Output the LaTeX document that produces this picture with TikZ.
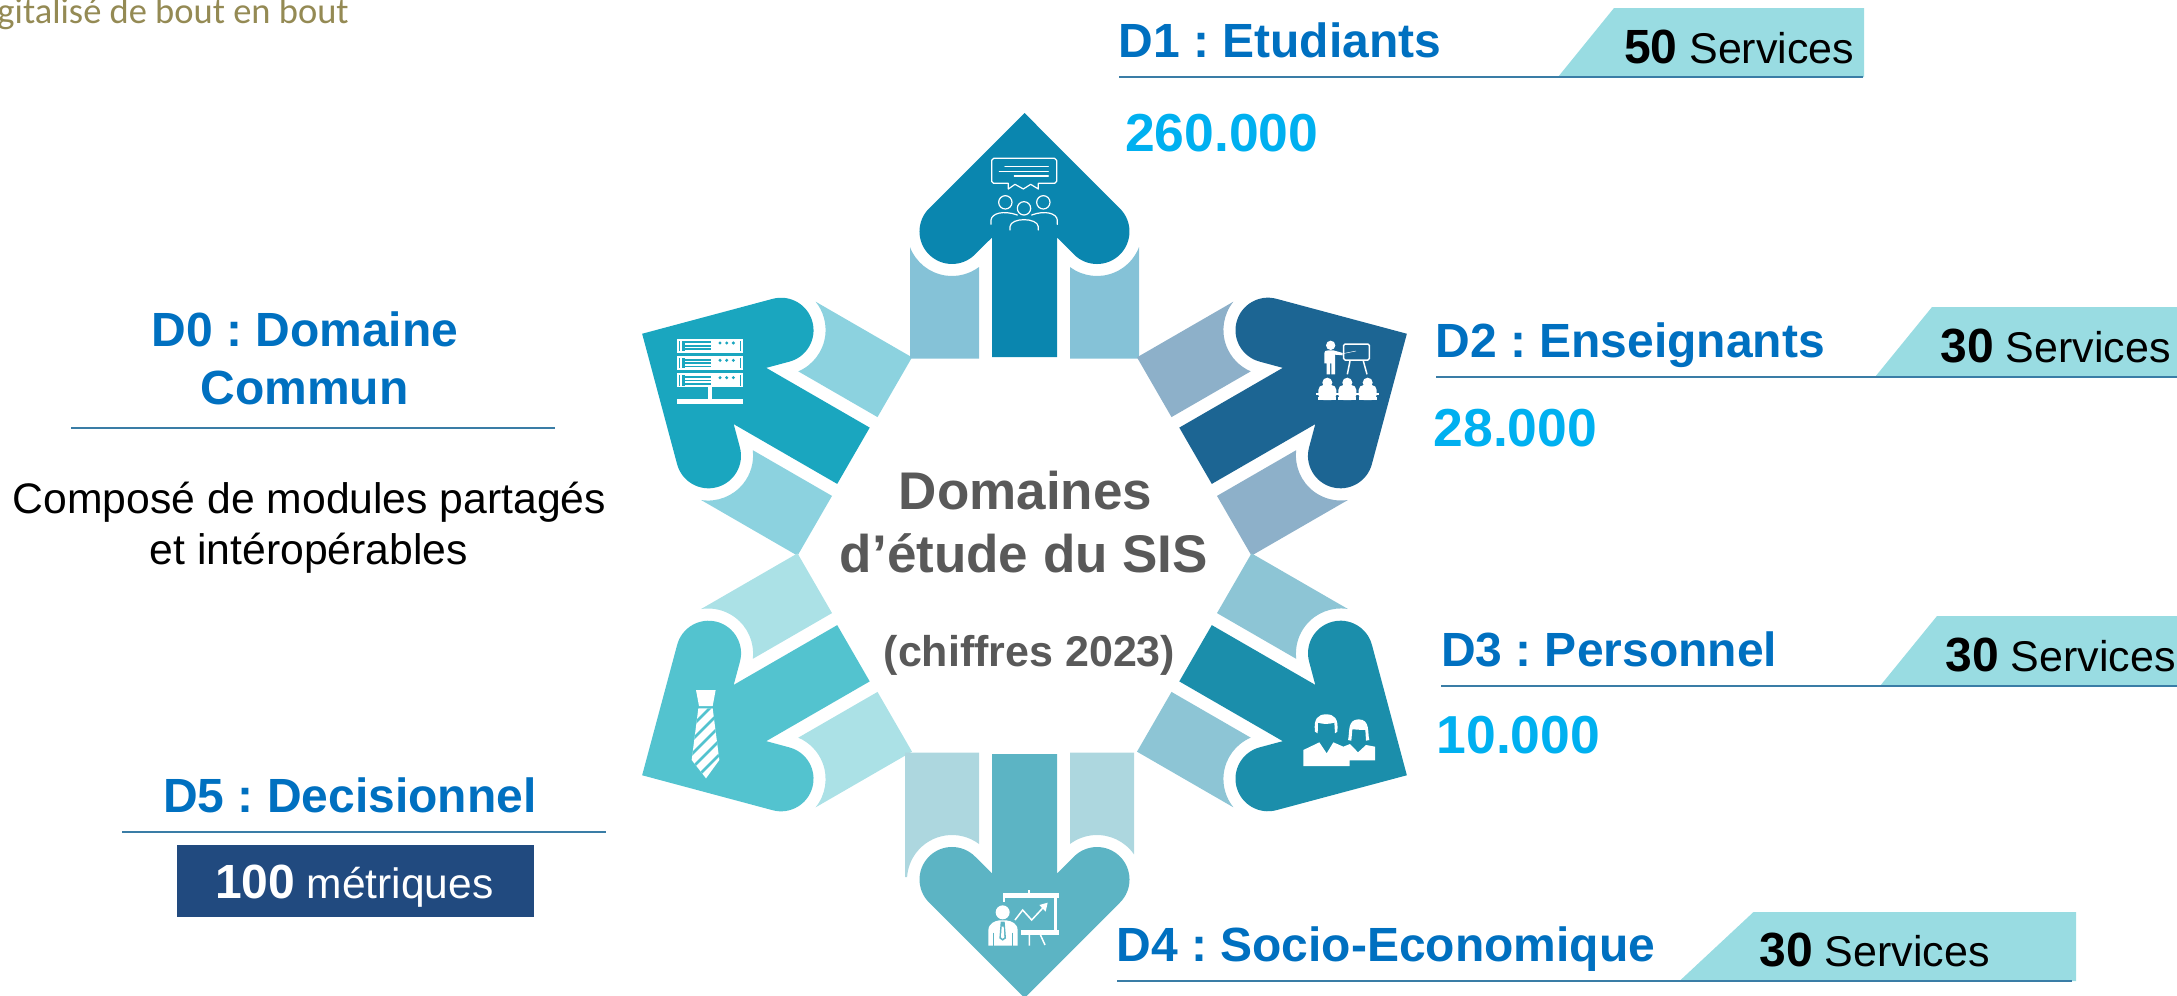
\documentclass[tikz,border=0pt]{standalone}
\usepackage{fontspec}
\setmainfont{Liberation Sans}
\newfontfamily\carlitofont{Carlito}
\newcommand\fsz[1]{\fontsize{#1}{#1}\selectfont}
\definecolor{titleblue}{HTML}{0070C0}
\definecolor{numblue}{HTML}{00B0F0}
\definecolor{rulecol}{HTML}{3A7DA6}
\definecolor{tagcol}{HTML}{99DCE2}
\definecolor{centercol}{HTML}{595959}
\definecolor{navy}{HTML}{214A7F}
\definecolor{olive}{HTML}{948A54}
\definecolor{aA}{HTML}{0A86AF}\definecolor{pA}{HTML}{85C2D7}
\definecolor{aB}{HTML}{1C6593}\definecolor{pB}{HTML}{8DB0C9}
\definecolor{aC}{HTML}{1B8EAB}\definecolor{pC}{HTML}{8DC5D5}
\definecolor{aD}{HTML}{5CB4C4}\definecolor{pD}{HTML}{ADD7DF}
\definecolor{aE}{HTML}{53C3CF}\definecolor{pE}{HTML}{ABE1E6}
\definecolor{aF}{HTML}{1AA6BF}\definecolor{pF}{HTML}{8CD2DF}
\tikzset{
  every node/.append style={execute at begin node=\frenchspacing},
  txt/.style={anchor=base west,inner sep=0pt,outer sep=0pt},
  ctxt/.style={anchor=base,inner sep=0pt,outer sep=0pt},
  title/.style={txt,text=titleblue,font=\fsz{48}\bfseries},
  ctitle/.style={ctxt,text=titleblue,font=\fsz{48}\bfseries},
  num/.style={txt,text=numblue,font=\fsz{53.5}\bfseries},
  tag/.style={txt,text=black,font=\fsz{43}},
  hrule/.style={draw=rulecol,line width=1.8pt},
  icon/.style={draw=white,line width=1.2pt,line cap=round,line join=round,fill=none},
}
% #1 angle #2 y shift #3 arrow colour #4 piece colour #5 left outer x #6 right outer x
\newcommand\spoke[6]{%
  \begin{scope}[shift={(1024.5,554.5+#2)},y=1pt,rotate=#1]
    \fill[#3] (0,441.5) -- (-95.5,346) arc[start angle=135,end angle=315,radius=32.5]
      -- (-32.5,317) -- (-32.5,197.5) -- (32.5,197.5) -- (32.5,317) -- (49.5,300)
      arc[start angle=225,end angle=405,radius=32.5] -- cycle;
    \pgfmathsetmacro\dl{min(#5-72.5,44.9)}
    \pgfmathsetmacro\dr{min(#6-72.5,44.9)}
    \pgfmathsetmacro\al{180+acos(\dl/45)}
    \pgfmathsetmacro\ar{360-acos(\dr/45)}
    \pgfmathsetmacro\yl{323.5-sqrt(45*45-\dl*\dl)}
    \pgfmathsetmacro\yr{323.5-sqrt(45*45-\dr*\dr)}
    \fill[#4] (-#5,196) -- (-#5,\yl) -- (-72.5-\dl,\yl)
      arc[start angle=\al,end angle=306.87,radius=45] -- (-45.5,196) -- cycle;
    \fill[#4] (45.5,196) -- (45.5,287.5)
      arc[start angle=233.13,end angle=\ar,radius=45] -- (#6,\yr) -- (#6,196) -- cycle;
  \end{scope}}
\begin{document}
\begin{tikzpicture}[x=1pt,y=-1pt]
\useasboundingbox (0,0) rectangle (2177,996);
% spokes
\spoke{60}{0}{aF}{pF}{114.5}{114.5}
\spoke{0}{0}{aA}{pA}{114.5}{114.5}
\spoke{-60}{0}{aB}{pB}{114.5}{114.5}
\spoke{-120}{0}{aC}{pC}{114.5}{114.5}
\spoke{120}{0}{aE}{pE}{114.5}{114.5}
\spoke{180}{2}{aD}{pD}{109.5}{119.5}
% header top-left
\node[anchor=base east,inner sep=0pt,text=olive,font=\carlitofont\fsz{36.5}] (hdr) at (349,23) {gitalisé de bout en bout};
% center
\node[ctxt,text=centercol,font=\fsz{53}\bfseries] (c1) at (1025.5,509) {Domaines};
\node[ctxt,text=centercol,font=\fsz{53}\bfseries] (c2) at (1024,572) {d’étude du SIS};
\node[ctxt,text=centercol,font=\fsz{43}\bfseries] (c3) at (1029.5,666) {(chiffres 2023)};
% D1
\fill[tagcol] (1558,77) -- (1614,8) -- (1864,8) -- (1864,77) -- cycle;
\draw[hrule] (1119,77) -- (1863,77);
\node[title] (d1) at (1118.5,57) {D1 : Etudiants};
\node[num] (n1) at (1125,151) {260.000};
\node[tag] (s1) at (1624,63) {{\fsz{48}\bfseries 50} Services};
% D2
\fill[tagcol] (1875,377) -- (1932,307) -- (2177,307) -- (2177,377) -- cycle;
\draw[hrule] (1436,377) -- (2177,377);
\node[title] (d2) at (1435.5,357) {D2 : Enseignants};
\node[num] (n2) at (1433.5,446) {28.000};
\node[tag] (s2) at (1940.5,362) {{\fsz{48}\bfseries 30} Services};
% D3
\fill[tagcol] (1880,686) -- (1937,616) -- (2177,616) -- (2177,686) -- cycle;
\draw[hrule] (1441,686) -- (2177,686);
\node[title] (d3) at (1441,666) {D3 : Personnel};
\node[num] (n3) at (1436.5,753) {10.000};
\node[tag] (s3) at (1945.5,671) {{\fsz{48}\bfseries 30} Services};
% D4
\fill[tagcol] (1679.5,981) -- (1753.5,912) -- (2076,912) -- (2076,981) -- cycle;
\draw[hrule] (1117,981) -- (2072,981);
\node[title] (d4) at (1116.5,961) {D4 : Socio-Economique};
\node[tag] (s4) at (1759.5,966) {{\fsz{48}\bfseries 30} Services};
% D0
\node[ctitle] (d0a) at (305,346) {D0 : Domaine};
\node[ctitle] (d0b) at (304.5,404) {Commun};
\draw[hrule] (71,428) -- (555,428);
\node[ctxt,font=\fsz{42.7}] (d0c) at (309.5,513) {Composé de modules partagés};
\node[ctxt,font=\fsz{42.7}] (d0d) at (309,564) {et intéropérables};
% D5
\node[ctitle] (d5) at (350,812) {D5 : Decisionnel};
\draw[hrule] (122,832) -- (606,832);
\fill[navy] (177,845) rectangle (534,917);
\node[txt,text=white,font=\fsz{42.5}] (m5) at (215,898) {{\fsz{48}\bfseries 100} métriques};
% icon D1
\begin{scope}[shift={(880,90)},scale=1/3]
  \draw[icon] (341,205) -- (524,205) -- (530,211) -- (530,274) -- (524,280) -- (475,280) -- (475,297) -- (452,283) -- (430,297) -- (405,283) -- (385,297) -- (385,280) -- (341,280) -- (335,274) -- (335,211) -- cycle;
  \draw[icon] (375,230) -- (505,230) (358,244) -- (505,244) (403,258) -- (505,258);
  \draw[icon] (376,337) circle[radius=20] (490,337) circle[radius=20] (432,355) circle[radius=20];
  \draw[icon] (333,403) -- (333,390) .. controls (335,370) and (370,360) .. (412,375);
  \draw[icon] (532,403) -- (532,390) .. controls (530,370) and (495,360) .. (455,375);
  \draw[icon] (390,420) -- (390,410) .. controls (392,382) and (472,382) .. (475,410) -- (475,420);
\end{scope}
% icon D0
\begin{scope}[shift={(620,280)},scale=1/3]
  \foreach \yy in {176,228,280}{
    \fill[white] (170,\yy) rectangle (370,\yy+42);
    \fill[aF] (176,\yy+6) rectangle (179,\yy+37);
    \fill[aF] (186,\yy+6) rectangle (194,\yy+37);
    \fill[aF] (194,\yy+8) rectangle (274,\yy+14);
    \fill[aF] (194,\yy+19) rectangle (274,\yy+24);
    \fill[aF] (194,\yy+29) rectangle (274,\yy+34);
    \fill[aF] (360,\yy+6) rectangle (363,\yy+37);
    \fill[aF] (300,\yy+13) circle[radius=5] (320,\yy+13) circle[radius=5] (340,\yy+13) circle[radius=5];
  }
  \fill[white] (263,322) rectangle (277,358);
  \fill[white] (170,357) rectangle (370,372);
\end{scope}
% icon D2
\begin{scope}[shift={(1120,280)},scale=1/3]
  \fill[white] (632,196) circle[radius=14];
  \fill[white] (613,222) .. controls (613,212) and (618,211) .. (625,211) -- (640,211) -- (668,219) -- (668,226) -- (645,224) -- (645,283) -- (634,283) -- (634,250) -- (630,250) -- (630,283) -- (620,283) -- (620,250) -- (613,250) -- cycle;
  \draw[white,line width=1.5pt,rounded corners=1.5pt] (671,192) rectangle (748,240);
  \draw[white,line width=0.5pt] (668,221) -- (708,213);
  \draw[white,line width=1.5pt] (690,243) -- (682,283) (730,243) -- (741,283);
  \foreach \cx in {622,682,743}{
    \fill[white] (\cx,308) circle[radius=15];
    \fill[white,rounded corners=5pt] (\cx-27,360) -- (\cx-27,315) -- (\cx+27,315) -- (\cx+27,360) -- cycle;
    \fill[white] (\cx-27,352) rectangle (\cx+27,360);
  }
  \fill[white] (588,340) rectangle (777,345);
\end{scope}
% icon D3
\begin{scope}[shift={(1120,550)},scale=1/3]
  \fill[white] (550,648) -- (550,600) -- (598,577) -- (620,610) -- (640,577) -- (670,590) -- (690,582) -- (714,607) -- (738,585) -- (765,590) -- (765,631) -- (689,631) -- (689,648) -- cycle;
  \fill[white] (585,545) .. controls (580,505) and (595,493) .. (618,493) .. controls (643,493) and (656,505) .. (652,545) -- (645,550) -- (643,518) .. controls (625,523) and (610,523) .. (594,518) -- (593,550) -- cycle;
  \fill[white] (684,570) .. controls (690,550) and (680,508) .. (716,508) .. controls (752,508) and (742,550) .. (748,570) -- (738,572) -- (736,540) .. controls (720,540) and (705,538) .. (697,538) -- (694,572) -- cycle;
\end{scope}
% icon D4
\begin{scope}[shift={(880,740)},scale=1/3]
  \fill[white] (368,460) rectangle (536,473);
  \fill[white] (445,450) rectangle (451,460);
  \fill[white] (370,473) rectangle (375,486);
  \fill[white] (522,473) rectangle (530,570);
  \fill[white] (424,570) rectangle (536,584);
  \draw[white,line width=1.5pt] (448,584) -- (448,617) (481,584) -- (495,615);
  \draw[white,line width=1.5pt] (405,540) -- (428,510) -- (455,540) -- (495,497);
  \fill[white] (503,488) -- (478,495) -- (497,515) -- cycle;
  \fill[white] (368,517) circle[radius=21];
  \fill[white] (325,617) -- (325,572) .. controls (325,550) and (345,543) .. (358,541) -- (378,541) .. controls (395,543) and (413,550) .. (413,572) -- (413,617) -- cycle;
  \draw[aD,line width=0.7pt] (340,578) -- (340,617) (398,578) -- (398,617);
  \fill[aD] (362,545) -- (374,545) -- (378,595) -- (368,602) -- (358,595) -- cycle;
  \fill[white] (365,560) -- (371,560) -- (373,592) -- (368,596) -- (363,592) -- cycle;
\end{scope}
% icon D5
\begin{scope}[shift={(620,550)},scale=1/3]
  \fill[white] (228,420) -- (287,420) -- (278,468) -- (237,468) -- cycle;
  \begin{scope}
    \clip (235,475) -- (278,475) -- (298,630) -- (258,685) -- (215,630) -- cycle;
    \fill[white] (200,470) rectangle (310,690);
    \foreach \yy in {512,554,596,638,680,722}{
      \draw[aE,line width=2.6pt] (190,\yy) -- (310,\yy-120);
    }
  \end{scope}
\end{scope}
\end{tikzpicture}
\end{document}
